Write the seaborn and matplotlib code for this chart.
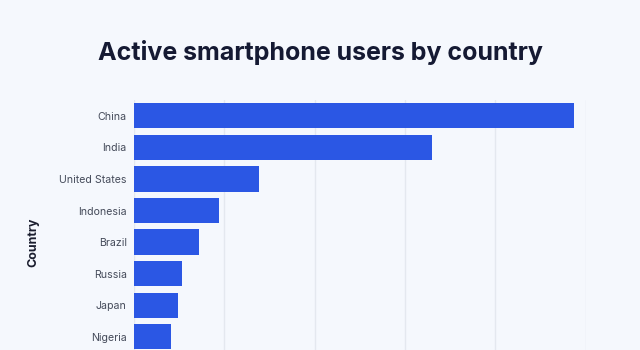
import matplotlib
matplotlib.use("Agg")
import matplotlib.pyplot as plt
import seaborn as sns
import pandas as pd

countries = ["China", "India", "United States", "Indonesia", "Brazil",
             "Russia", "Japan", "Nigeria"]
users_millions = [974.69, 659.0, 276.14, 187.7, 143.43, 106.44, 97.44, 83.34]

df = pd.DataFrame({"Country": countries, "Users": users_millions})

bg = "#f5f8fd"
sns.set_theme(style="whitegrid")
plt.rcParams["font.family"] = ["Inter", "DejaVu Sans"]

fig = plt.figure(figsize=(6.4, 3.5), dpi=100, facecolor=bg)
ax = fig.add_axes([0.209, 0.0, 0.7065, 0.714])
ax.set_facecolor(bg)

sns.barplot(data=df, x="Users", y="Country", color="#2b57e4",
            saturation=1, width=0.8, ax=ax, edgecolor="none")

ax.set_xlim(0, 1000)
ax.set_ylim(7.42, -0.5)
ax.set_xticks([0, 200, 400, 600, 800, 1000])
ax.xaxis.grid(True, color="#e4e8ef", linewidth=1.0)
ax.yaxis.grid(False)
for s in ax.spines.values():
    s.set_visible(False)
ax.tick_params(axis="x", length=0, labelbottom=False)
ax.tick_params(axis="y", length=0, pad=5, labelsize=7.6, labelcolor="#454b5a")
ax.set_xlabel("")
ax.set_ylabel("Country", fontsize=9, fontweight="bold", color="#1a1d2e")
ax.yaxis.set_label_coords(-0.208, 0.43)

fig.text(0.5, 0.85, "Active smartphone users by country", ha="center",
         va="center", fontsize=18, fontweight="bold", color="#151a33")

fig.savefig("out.png", dpi=100, facecolor=bg)
